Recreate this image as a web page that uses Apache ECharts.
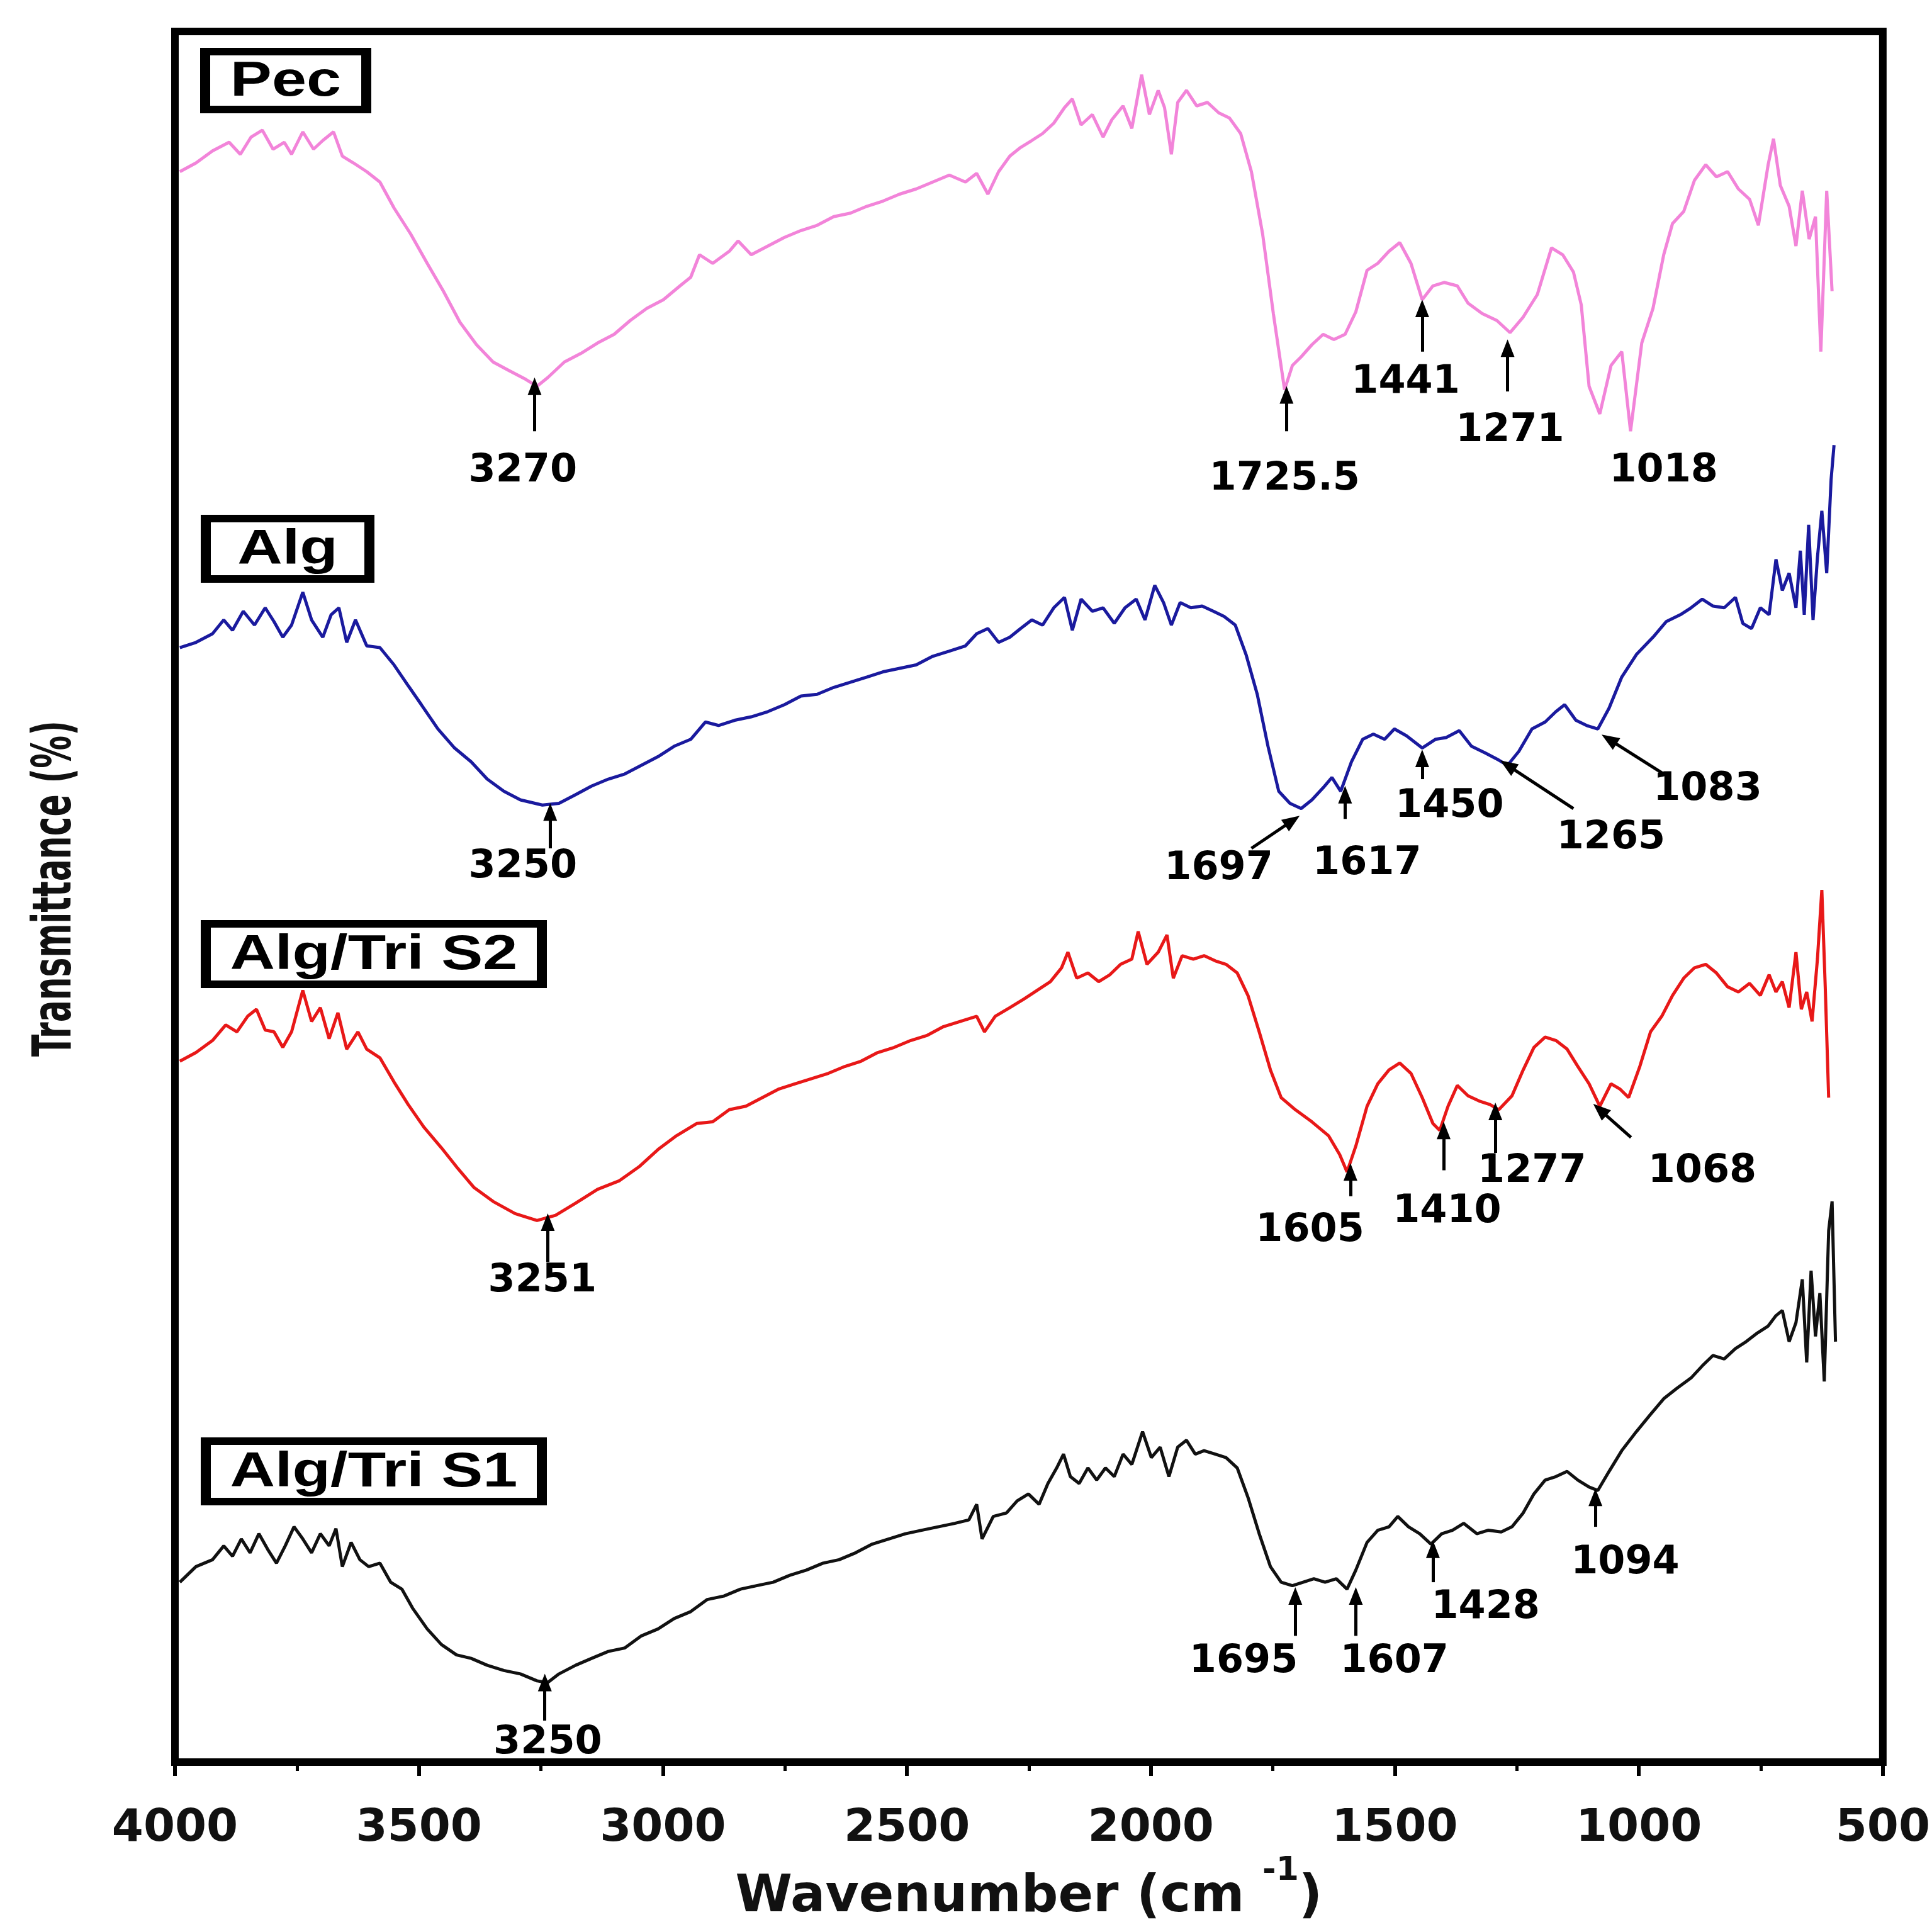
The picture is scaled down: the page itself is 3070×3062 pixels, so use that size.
<!DOCTYPE html>
<html>
<head>
<meta charset="utf-8">
<script src="https://cdn.jsdelivr.net/npm/echarts/dist/echarts.min.js"></script>
<style>html,body{margin:0;padding:0;background:#fff}#c{width:3070px;height:3062px}</style>
</head>
<body>
<div id="c"></div>
<script>
// ---------- axis ----------
const xMin = 500, xMax = 4000, xInterval = 500;
const xTitle = 'Wavenumber (cm';
const xTitleSup = '-1';
const yTitle = 'Transmittance (%)';

// ---------- spectra (wavenumber cm-1, transmittance in stacked arbitrary units) ----------
const pecWn = [3990,3957,3923,3889,3866,3844,3821,3799,3776,3761,3738,3716,3697,3675,3657,3634,3607,3580,3551,3517,3483,3450,3416,3382,3348,3315,3281,3258,3236,3202,3168,3134,3100,3067,3033,2999,2965,2943,2925,2898,2864,2846,2819,2785,2751,2717,2684,2650,2616,2582,2549,2515,2481,2447,2413,2380,2357,2334,2312,2289,2267,2244,2222,2199,2177,2161,2143,2120,2098,2080,2057,2039,2019,2003,1985,1972,1958,1945,1927,1906,1884,1861,1839,1816,1794,1771,1749,1726,1710,1692,1670,1647,1625,1602,1580,1557,1535,1512,1490,1467,1444,1422,1399,1372,1350,1321,1291,1264,1237,1208,1179,1156,1134,1118,1102,1080,1057,1035,1017,994,971,949,931,908,886,863,841,818,796,773,755,735,724,710,692,678,665,651,638,627,615,604];
const pecT = [91.9,92.4,93.1,93.6,92.9,93.9,94.3,93.2,93.6,92.9,94.2,93.2,93.7,94.2,92.8,92.4,91.9,91.3,89.8,88.3,86.6,85.0,83.2,81.9,80.9,80.4,79.9,79.5,80.0,80.9,81.4,82.0,82.5,83.3,84.0,84.5,85.3,85.8,87.1,86.6,87.3,87.9,87.1,87.6,88.1,88.5,88.8,89.3,89.5,89.9,90.2,90.6,90.9,91.3,91.7,91.3,91.8,90.6,91.9,92.8,93.3,93.7,94.1,94.7,95.6,96.1,94.6,95.2,93.9,94.9,95.7,94.4,97.5,95.2,96.6,95.6,92.9,95.9,96.6,95.7,95.9,95.3,95.0,94.1,91.9,88.3,83.7,79.3,80.7,81.2,81.9,82.5,82.2,82.5,83.8,86.2,86.6,87.3,87.8,86.6,84.5,85.3,85.5,85.3,84.3,83.7,83.3,82.6,83.5,84.8,87.5,87.1,86.1,84.2,79.5,77.9,80.7,81.5,76.9,82.0,84.0,87.1,88.9,89.6,91.4,92.3,91.6,91.9,90.9,90.3,88.8,92.3,93.8,91.1,89.9,87.6,90.8,88.0,89.3,81.5,90.8,85.0];

const algWn = [3990,3957,3923,3900,3882,3860,3837,3815,3797,3779,3761,3738,3720,3697,3680,3664,3648,3630,3607,3580,3551,3522,3495,3461,3427,3393,3360,3326,3292,3247,3213,3179,3146,3112,3078,3044,3010,2977,2943,2913,2886,2853,2819,2785,2751,2717,2684,2650,2616,2582,2549,2515,2481,2447,2413,2380,2357,2334,2312,2289,2267,2244,2222,2199,2177,2161,2143,2120,2098,2075,2053,2030,2012,1992,1974,1958,1940,1918,1895,1872,1850,1827,1805,1782,1760,1738,1715,1692,1670,1647,1629,1611,1589,1566,1544,1521,1501,1476,1444,1417,1395,1368,1343,1314,1287,1269,1246,1219,1192,1170,1152,1129,1107,1084,1061,1035,1005,971,944,915,893,870,848,825,802,787,769,751,733,719,706,692,678,669,661,652,643,634,625,615,606,600];
const algT = [64.4,64.7,65.2,66.0,65.4,66.5,65.7,66.7,65.9,65.0,65.7,67.6,66.0,65.0,66.3,66.7,64.7,66.0,64.5,64.4,63.4,62.2,61.1,59.7,58.6,57.8,56.8,56.1,55.6,55.3,55.4,55.9,56.4,56.8,57.1,57.6,58.1,58.7,59.1,60.1,59.9,60.2,60.4,60.7,61.1,61.6,61.7,62.1,62.4,62.7,63.0,63.2,63.4,63.9,64.2,64.5,65.2,65.5,64.7,65.0,65.5,66.0,65.7,66.7,67.3,65.4,67.2,66.5,66.7,65.8,66.7,67.2,66.0,68.0,67.0,65.7,67.0,66.7,66.8,66.5,66.2,65.7,64.0,61.7,58.7,56.1,55.4,55.1,55.6,56.3,56.9,56.1,57.8,59.1,59.4,59.1,59.7,59.3,58.6,59.1,59.2,59.6,58.7,58.3,57.9,57.6,58.4,59.7,60.1,60.7,61.1,60.2,59.9,59.7,60.9,62.7,64.0,65.0,65.9,66.3,66.7,67.2,66.8,66.7,67.3,65.8,65.5,66.7,66.3,69.5,67.7,68.7,66.7,70.0,66.3,71.5,66.0,69.6,72.3,68.7,74.1,76.1];

const s2Wn = [3990,3957,3923,3896,3873,3851,3833,3815,3797,3779,3761,3738,3720,3702,3684,3666,3648,3625,3607,3580,3551,3522,3490,3454,3423,3387,3348,3303,3258,3220,3179,3134,3089,3049,3010,2972,2931,2898,2864,2830,2796,2762,2729,2695,2661,2627,2594,2560,2526,2492,2458,2425,2391,2357,2341,2319,2289,2260,2233,2206,2183,2170,2152,2129,2107,2084,2062,2039,2026,2008,1985,1967,1954,1936,1913,1891,1868,1846,1823,1801,1778,1755,1733,1704,1670,1636,1613,1598,1580,1557,1535,1512,1490,1467,1444,1422,1408,1391,1372,1350,1327,1305,1287,1260,1237,1215,1192,1170,1147,1125,1102,1080,1057,1039,1021,998,976,953,931,908,886,863,841,818,796,773,751,733,719,706,692,678,667,656,645,634,625,618,611];
const s2T = [40.5,41.0,41.7,42.6,42.2,43.1,43.5,42.3,42.2,41.3,42.2,44.6,42.8,43.6,41.8,43.3,41.2,42.2,41.2,40.7,39.3,38.0,36.7,35.5,34.4,33.2,32.4,31.7,31.3,31.6,32.3,33.1,33.6,34.4,35.4,36.2,36.9,37.0,37.7,37.9,38.4,38.9,39.2,39.5,39.8,40.2,40.5,41.0,41.3,41.7,42.0,42.5,42.8,43.1,42.2,43.1,43.6,44.1,44.6,45.1,45.9,46.8,45.3,45.6,45.1,45.5,46.1,46.4,48.0,46.1,46.8,47.8,45.3,46.6,46.4,46.6,46.3,46.1,45.6,44.3,42.2,40.0,38.4,37.7,37.0,36.2,35.1,34.1,35.6,37.9,39.2,40.0,40.4,39.8,38.4,36.9,36.5,37.9,39.1,38.5,38.2,38.0,37.7,38.5,40.0,41.3,41.9,41.7,41.2,40.2,39.2,37.9,39.2,38.9,38.4,40.2,42.2,43.1,44.3,45.3,45.9,46.1,45.6,44.8,44.5,45.0,44.3,45.5,44.5,45.1,43.6,46.8,43.5,44.5,42.8,46.4,50.4,44.8,38.4];

const s1Wn = [3990,3957,3923,3900,3882,3864,3846,3828,3810,3792,3774,3756,3738,3720,3702,3684,3670,3657,3639,3621,3603,3580,3558,3535,3513,3483,3454,3423,3393,3360,3326,3292,3258,3236,3213,3179,3146,3112,3078,3044,3010,2977,2943,2909,2875,2841,2808,2774,2740,2706,2672,2639,2605,2571,2537,2503,2470,2436,2402,2373,2357,2346,2323,2296,2274,2251,2229,2211,2193,2179,2165,2147,2129,2111,2093,2075,2057,2039,2017,1999,1981,1963,1945,1927,1909,1891,1868,1846,1823,1801,1778,1755,1733,1710,1688,1666,1643,1620,1598,1580,1557,1535,1512,1494,1472,1449,1426,1404,1382,1359,1332,1309,1282,1260,1237,1215,1192,1170,1147,1125,1102,1084,1061,1035,1005,976,949,922,893,870,848,825,802,780,757,735,719,706,692,678,665,656,647,638,629,620,611,604,597];
const s1T = [10.4,11.3,11.7,12.5,11.9,12.9,12.1,13.2,12.3,11.5,12.5,13.6,12.9,12.1,13.2,12.5,13.5,11.3,12.7,11.7,11.3,11.5,10.4,10.0,8.9,7.7,6.8,6.2,6.0,5.6,5.3,5.1,4.7,4.6,5.1,5.6,6.0,6.4,6.6,7.3,7.7,8.3,8.7,9.4,9.6,10.0,10.2,10.4,10.8,11.1,11.5,11.7,12.1,12.6,12.9,13.2,13.4,13.6,13.8,14.0,14.9,12.9,14.2,14.4,15.1,15.5,14.9,16.1,17.0,17.8,16.5,16.1,17.0,16.3,17.0,16.5,17.8,17.2,19.1,17.6,18.2,16.5,18.2,18.6,17.8,18.0,17.8,17.6,17.0,15.3,13.2,11.3,10.4,10.2,10.4,10.6,10.4,10.6,10.0,11.1,12.7,13.4,13.6,14.2,13.6,13.2,12.6,13.2,13.4,13.8,13.2,13.4,13.3,13.6,14.4,15.5,16.3,16.5,16.8,16.3,15.9,15.7,16.8,18.0,19.1,20.1,21.0,21.6,22.2,22.9,23.5,23.3,23.9,24.3,24.8,25.2,25.8,26.1,24.3,25.4,27.9,23.1,28.4,24.6,27.1,22.0,30.7,32.4,24.3];

const sampleNames = ['Pec', 'Alg', 'Alg/Tri S2', 'Alg/Tri S1'];
const sampleColors = ['#f284d9', '#1a1a9e', '#e81818', '#111111'];

// ---------- peak annotations ----------
// arrows: [tail wavenumber, tail T, head wavenumber, head T]
const peakArrows = [
  [3263,76.9,3263,79.5],[1722,76.9,1722,79.0],[1444,81.5,1444,84.0],[1269,79.2,1269,81.7],
  [3231,52.8,3231,54.9],[1794,52.8,1710,54.4],[1602,54.5,1602,55.9],[1444,56.8,1444,58.0],[1134,55.1,1269,57.6],[949,57.1,1061,59.1],
  [3236,28.9,3236,31.2],[1591,32.7,1591,34.1],[1400,34.2,1400,36.5],[1294,35.2,1294,37.6],[1016,36.1,1080,37.7],
  [3242,2.4,3242,4.6],[1704,7.3,1704,9.6],[1580,7.3,1580,9.6],[1422,10.4,1422,12.3],[1089,13.6,1089,15.3]
];
// labels: [text, wavenumber, T]
const peakLabels = [
  ['3270',3287,74.6],['1725.5',1726,74.1],['1441',1478,79.7],['1271',1264,76.9],['1018',949,74.6],
  ['3250',3287,51.7],['1697',1861,51.6],['1617',1557,51.9],['1450',1388,55.2],['1265',1057,53.4],['1083',859,56.2],
  ['3251',3247,27.8],['1605',1674,30.7],['1410',1393,31.8],['1277',1219,34.1],['1068',870,34.1],
  ['3250',3236,1.1],['1695',1810,5.8],['1607',1501,5.8],['1428',1314,8.9],['1094',1028,11.5]
];

const spectraWn = [pecWn, algWn, s2Wn, s1Wn];
const spectraT = [pecT, algT, s2T, s1T];

// legend box layout (pixels)
const boxLayout = [
  {x:318, y:76, w:272, h:104},
  {x:319, y:818, w:276, h:108},
  {x:319, y:1462, w:550, h:108},
  {x:319, y:2284, w:550, h:108}
];

const chart = echarts.init(document.getElementById('c'), null, {renderer:'canvas'});

const series = spectraWn.map((wn, k) => ({
  type: 'line',
  name: sampleNames[k],
  data: wn.map((w, i) => [w, spectraT[k][i]]),
  showSymbol: false,
  symbol: 'none',
  lineStyle: {width: 5, color: sampleColors[k]},
  z: 3,
  animation: false
}));

series.push({
  type: 'scatter',
  name: 'peaks',
  data: peakLabels.map(l => ({value: [l[1], l[2]], name: l[0]})),
  symbolSize: 1,
  itemStyle: {color: 'rgba(0,0,0,0)', opacity: 1},
  silent: true,
  z: 5,
  label: {
    show: true, position: 'inside', formatter: '{b}',
    fontFamily: 'DejaVu Sans', fontWeight: 'bold', fontSize: 62, color: '#000', opacity: 1
  },
  markLine: {
    silent: true,
    animation: false,
    symbol: ['none', 'triangle'],
    symbolSize: [22, 28],
    label: {show: false},
    lineStyle: {color: '#000', width: 5, type: 'solid', opacity: 1},
    emphasis: {disabled: true},
    data: peakArrows.map(a => [{coord: [a[0], a[1]]}, {coord: [a[2], a[3]]}])
  },
  animation: false
});

const graphics = [];
boxLayout.forEach((b, k) => {
  graphics.push({type:'rect', shape:{x:b.x, y:b.y, width:b.w, height:b.h}, style:{fill:'#000'}, z:10});
  graphics.push({type:'rect', shape:{x:b.x+16, y:b.y+12, width:b.w-32, height:b.h-24}, style:{fill:'#fff'}, z:11});
  graphics.push({type:'text', x:b.x + b.w/2, y:b.y + b.h/2 + 2, scaleX:1.27, z:12,
    style:{text: sampleNames[k], fill:'#000', font:'bold 78px "Liberation Sans", Arial, sans-serif', textAlign:'center', textVerticalAlign:'middle'}});
});
graphics.push({type:'text', x:90, y:1412, rotation: Math.PI/2, scaleX: 0.67, z:12,
  style:{text: yTitle, fill:'#111', font:'bold 86px "Liberation Sans Narrow", "DejaVu Sans Condensed", sans-serif', textAlign:'center', textVerticalAlign:'middle'}});

chart.setOption({
  backgroundColor: '#fff',
  animation: false,
  grid: {left: 278, right: 76, top: 50, bottom: 233, show: true, borderColor: '#000', borderWidth: 12, backgroundColor: 'transparent'},
  xAxis: {
    type: 'value', min: xMin, max: xMax, interval: xInterval, inverse: true,
    axisLine: {show: false},
    axisTick: {show: true, length: 22, lineStyle: {color: '#000', width: 6}},
    minorTick: {show: true, splitNumber: 2, length: 14, lineStyle: {color: '#000', width: 5}},
    splitLine: {show: false}, minorSplitLine: {show: false},
    axisLabel: {show: true, margin: 70, color: '#111', fontFamily: 'DejaVu Sans', fontWeight: 'bold', fontSize: 72,
      showMinLabel: true, showMaxLabel: true, formatter: v => String(v)},
    name: '{t|' + xTitle + ' }{s|' + xTitleSup + '}{t|)}',
    nameLocation: 'middle', nameGap: 136,
    nameTextStyle: {
      rich: {
        t: {fontFamily: 'DejaVu Sans', fontWeight: 'bold', fontSize: 82, color: '#111', lineHeight: 110, verticalAlign: 'bottom'},
        s: {fontFamily: 'DejaVu Sans', fontWeight: 'bold', fontSize: 52, color: '#111', lineHeight: 110, verticalAlign: 'top', padding: [0,0,36,0]}
      }
    }
  },
  yAxis: {
    type: 'value', min: 0, max: 100,
    axisLine: {show: false}, axisTick: {show: false}, axisLabel: {show: false}, splitLine: {show: false}
  },
  graphic: graphics,
  series: series
});
</script>
</body>
</html>
